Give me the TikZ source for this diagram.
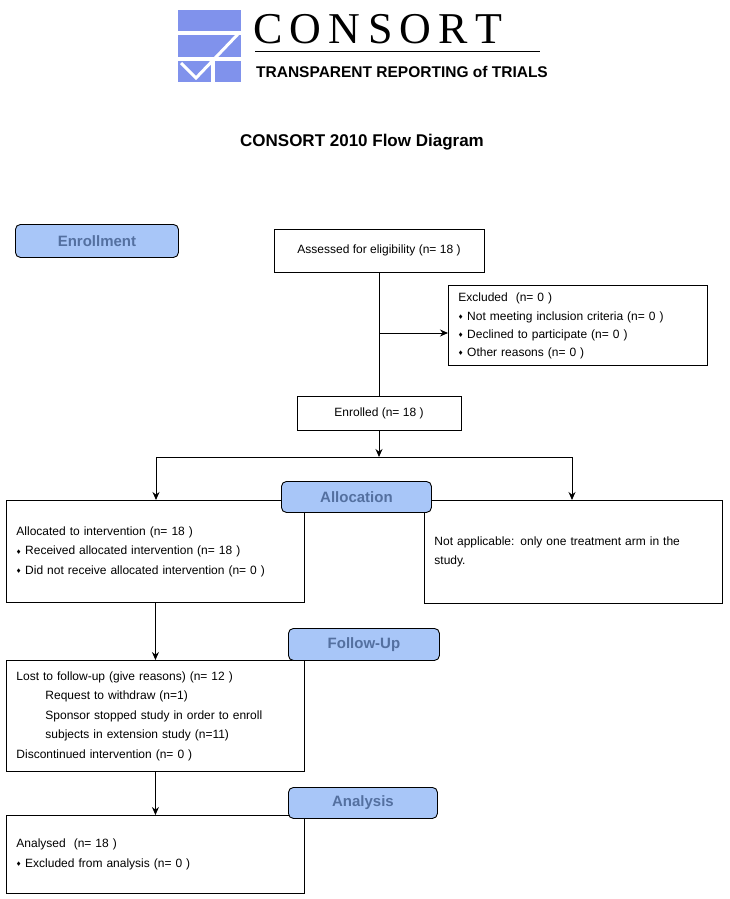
\documentclass[tikz,border=0pt]{standalone}
\usepackage{amssymb}
\usepackage{fontspec}
\setmainfont{Liberation Sans}
\newfontfamily\logoserif{Liberation Serif}
\usetikzlibrary{positioning,arrows.meta}
\definecolor{stageblue}{RGB}{168,198,248}
\definecolor{stagetext}{RGB}{84,112,160}
\definecolor{logoblue}{RGB}{128,146,236}
\newcommand{\dmd}{\raisebox{1.5pt}{\fontsize{5}{5}\selectfont$\blacklozenge$}\ }
\tikzset{
  box/.style={draw,line width=0.9pt,anchor=north west,align=left,inner xsep=10pt,inner ysep=6pt,font=\fontsize{12}{19.5}\selectfont},
  stage/.style={draw,line width=0.9pt,rounded corners=5pt,fill=stageblue,text=stagetext,font=\bfseries\fontsize{15}{15}\selectfont,anchor=north west,inner sep=0pt},
  flow/.style={line width=1pt,-{Stealth[length=8pt,width=7pt]}}
}

\begin{document}
\begin{tikzpicture}[x=1pt,y=-1pt]
  \useasboundingbox (0,0) rectangle (730,899);
  % logo
  \fill[logoblue] (178,10) rectangle (241,31);
  \fill[logoblue] (178,35) rectangle (241,57);
  \fill[logoblue] (178,61) rectangle (211,82);
  \fill[logoblue] (215,61) rectangle (241,82);
  \draw[white,line width=3pt] (181,63) -- (196,78) -- (240,32);
  \node[anchor=west,inner sep=0pt,font=\logoserif\fontsize{44}{44}\selectfont] (logo) at (253,29) {C\,O\,N\,S\,O\,R\,T};
  \draw[line width=1pt] (255,52) -- (540,52);
  \node[anchor=west,inner sep=0pt,font=\bfseries\fontsize{15.5}{16}\selectfont] (motto) at (256,72) {TRANSPARENT REPORTING of TRIALS};
  \node[font=\bfseries\fontsize{17}{17}\selectfont] (title) at (362,142) {CONSORT 2010 Flow Diagram};

  % enrollment
  \node[stage,minimum width=163pt,minimum height=33pt] (enroll) at (15,224) {Enrollment};
  \node[box,minimum width=210pt,minimum height=43pt,anchor=center,align=center] (assess) at (379,250.5) {Assessed for eligibility (n= 18 )};
  \node[box,text width=239pt,inner ysep=7pt,font=\fontsize{12}{18}\selectfont] (excl) at (448,285)
    {Excluded\ \ (n= 0 )\\[1pt]
     \dmd Not meeting inclusion criteria (n= 0 )\\
     \dmd Declined to participate (n= 0 )\\
     \dmd Other reasons (n= 0 )\\[4pt]};
  \node[box,minimum width=164pt,minimum height=34pt,anchor=center,align=center] (enrol) at (379,413) {Enrolled (n= 18 )};
  \coordinate (exbr) at (379,333);
  \draw[line width=1pt] (assess) -- (enrol);
  \draw[flow] (exbr) -- (excl.west |- exbr);

  % allocation
  \coordinate (split) at (379,457);
  \coordinate (splitl) at (156,457);
  \coordinate (splitr) at (572,457);
  \node[box,text width=278pt,minimum height=102pt] (armA) at (6,500)
    {Allocated to intervention (n= 18 )\\
     \dmd Received allocated intervention (n= 18 )\\
     \dmd Did not receive allocated intervention (n= 0 )};
  \node[box,text width=278pt,minimum height=103pt] (armB) at (424,500)
    {Not applicable: only one treatment arm in the\\study.};
  \draw[flow] (enrol) -- (split);
  \draw[line width=1pt] (splitl) -- (splitr);
  \draw[flow] (splitl) -- (splitl |- armA.north);
  \draw[flow] (splitr) -- (splitr |- armB.north);
  \node[stage,minimum width=150pt,minimum height=31pt] (alloc) at (281,481) {Allocation};

  % follow-up
  \node[box,text width=278pt,minimum height=111pt] (lost) at (6,660)
    {Lost to follow-up (give reasons) (n= 12 )\\
     \hspace*{29pt}Request to withdraw (n=1)\\
     \hspace*{29pt}Sponsor stopped study in order to enroll\\
     \hspace*{29pt}subjects in extension study (n=11)\\
     Discontinued intervention (n= 0 )};
  \draw[flow] (armA) -- (lost);
  \node[stage,minimum width=151pt,minimum height=32pt] (follow) at (288,628) {Follow-Up};

  % analysis
  \node[box,text width=278pt,minimum height=78pt] (anal) at (6,815)
    {Analysed\ \ (n= 18 )\\
     \dmd Excluded from analysis (n= 0 )};
  \draw[flow] (lost) -- (anal);
  \node[stage,minimum width=149pt,minimum height=31pt] (analysis) at (288,787) {Analysis};
\end{tikzpicture}
\end{document}
